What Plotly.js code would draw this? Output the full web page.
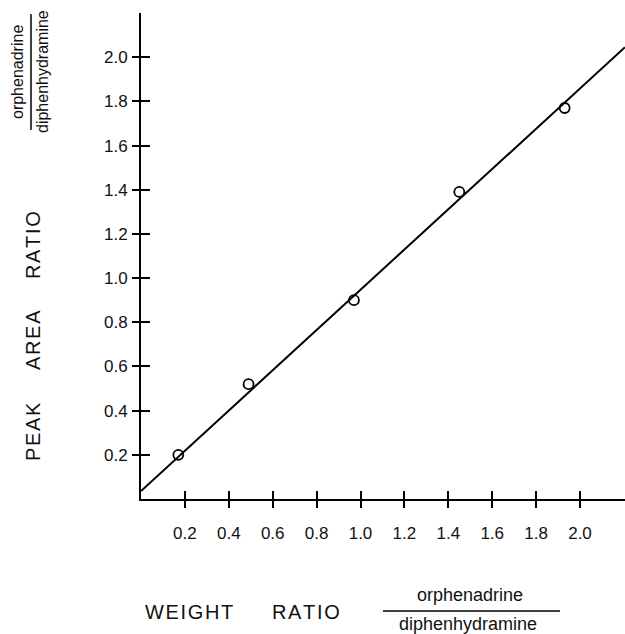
<!DOCTYPE html>
<html>
<head>
<meta charset="utf-8">
<script src="https://cdn.plot.ly/plotly-3.0.1.min.js"></script>
<style>html,body{margin:0;padding:0;background:#fff;}#chart{width:625px;height:634px;}</style>
</head>
<body>
<div id="chart"></div>
<script>
// Data
const weightRatio = [0.17, 0.49, 0.97, 1.45, 1.93];
const peakAreaRatio = [0.20, 0.52, 0.90, 1.39, 1.77];
const fitX = [0, 2.205];
const fitY = [0.036, 2.045];
const tickVals = [0.2, 0.4, 0.6, 0.8, 1.0, 1.2, 1.4, 1.6, 1.8, 2.0];
const tickText = ["0.2", "0.4", "0.6", "0.8", "1.0", "1.2", "1.4", "1.6", "1.8", "2.0"];

const W = 625, H = 634;
const M = {l: 141, r: 0, t: 13, b: 135};
const PW = W - M.l - M.r, PH = H - M.t - M.b;
const px = x => (x - M.l) / PW;
const py = y => (H - M.b - y) / PH;

const FONT = "Liberation Sans, Arial, sans-serif";
const sp = s => s.split('').join('\u200A');

const traces = [
  {x: fitX, y: fitY, mode: 'lines', line: {color: '#000', width: 2}, hoverinfo: 'skip', showlegend: false},
  {x: weightRatio, y: peakAreaRatio, mode: 'markers',
   marker: {symbol: 'circle-open', size: 10, color: '#000', line: {width: 1.8, color: '#000'}}, showlegend: false},
  {x: [1], y: [1], xaxis: 'x2', yaxis: 'y2', mode: 'markers', marker: {opacity: 0}, hoverinfo: 'skip', showlegend: false}
];

const axCommon = {
  showgrid: false, zeroline: false, showline: true, linecolor: '#000', linewidth: 2,
  tickvals: tickVals, ticktext: tickText, tickcolor: '#000', tickwidth: 2,
  tickfont: {family: FONT, size: 17, color: '#111'}
};

const ann = (text, x, y, size, angle) => ({
  text: text, xref: 'paper', yref: 'paper', x: px(x), y: py(y),
  xanchor: 'center', yanchor: 'middle', showarrow: false, textangle: angle || 0,
  font: {family: FONT, size: size, color: '#111'}
});

const layout = {
  width: W, height: H, margin: M,
  paper_bgcolor: '#fff', plot_bgcolor: '#fff', showlegend: false,
  xaxis: Object.assign({}, axCommon, {range: [0, 2.205], ticks: 'outside', ticklen: 7, ticklabelstandoff: 11, layer: 'above traces'}),
  yaxis: Object.assign({}, axCommon, {range: [0, 2.2], ticks: 'outside', ticklen: 7, ticklabelstandoff: 1}),
  xaxis2: Object.assign({}, axCommon, {range: [0, 2.205], overlaying: 'x', anchor: 'y2', side: 'bottom', ticks: 'inside', ticklen: 8, showticklabels: false}),
  yaxis2: Object.assign({}, axCommon, {range: [0, 2.2], overlaying: 'y', anchor: 'x2', side: 'left', ticks: 'inside', ticklen: 9, showticklabels: false}),
  annotations: [
    ann(sp('WEIGHT'), 189, 612, 20),
    ann(sp('RATIO'), 306, 612, 20),
    ann('orphenadrine', 470, 595, 18),
    ann('diphenhydramine', 468, 624, 18),
    ann(sp('PEAK'), 33, 432, 20, -90),
    ann(sp('AREA'), 33, 340, 20, -90),
    ann(sp('RATIO'), 33, 245, 20, -90),
    ann('orphenadrine', 18, 72, 16, -90),
    ann('diphenhydramine', 43, 72, 16, -90)
  ],
  shapes: [
    {type: 'line', xref: 'paper', yref: 'paper', x0: px(383), x1: px(560), y0: py(611), y1: py(611), line: {color: '#000', width: 1.5}},
    {type: 'line', xref: 'paper', yref: 'paper', x0: px(31), x1: px(31), y0: py(14), y1: py(130), line: {color: '#000', width: 1.5}}
  ]
};

Plotly.newPlot('chart', traces, layout, {staticPlot: true, displayModeBar: false});
</script>
</body>
</html>
